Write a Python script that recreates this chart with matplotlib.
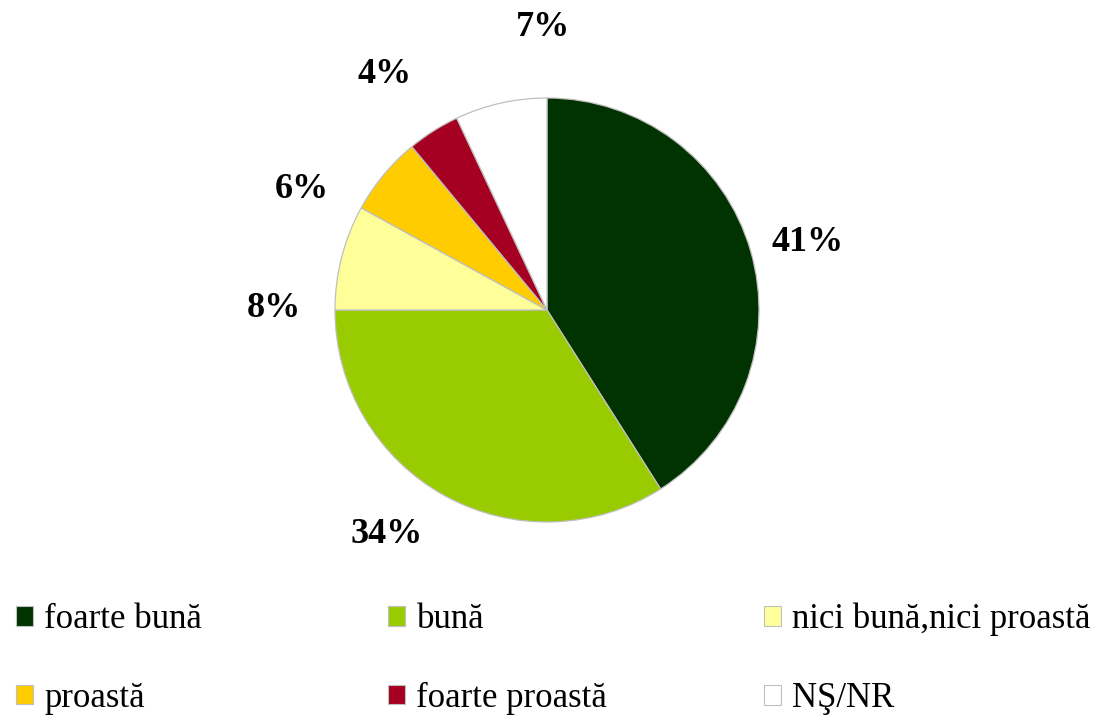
import numpy as np
import matplotlib
matplotlib.use("Agg")
import matplotlib.pyplot as plt
from matplotlib.patches import Patch

categories = ["foarte bună", "bună", "nici bună,nici proastă", "proastă", "foarte proastă", "NŞ/NR"]
values = [41, 34, 8, 6, 4, 7]
colors = ["#003300", "#99cc00", "#ffff99", "#ffcc00", "#a50021", "#ffffff"]
label_texts = ["41%", "34%", "8%", "6%", "4%", "7%"]
# label placement tweaks (angle shift in degrees, radial factor)
label_shift = [-1.6, -6.7, 14.0, 13.5, 2.3, -11.8]
label_rad = [1.27, 1.30, 1.29, 1.29, 1.35, 1.335]

fig = plt.figure(figsize=(10.93, 7.16), dpi=100)
cx, cy, R = 547, 310, 212
W, H = 1093, 716
ax = fig.add_axes([(cx - R) / W, (H - cy - R) / H, 2 * R / W, 2 * R / H])
wedges, _ = ax.pie(values, colors=colors, startangle=90, counterclock=False,
                   radius=1.0, wedgeprops=dict(edgecolor="#bfbfbf", linewidth=0.9))
ax.set_xlim(-1, 1)
ax.set_ylim(-1, 1)
ax.set_aspect("equal")
ax.axis("off")

for w, txt, sh, rf in zip(wedges, label_texts, label_shift, label_rad):
    mid = np.deg2rad((w.theta1 + w.theta2) / 2 + sh)
    ax.text(rf * np.cos(mid), rf * np.sin(mid), txt, ha="center", va="center",
            fontsize=26, fontweight="bold", family="Liberation Serif", clip_on=False)

handles = [Patch(facecolor=c, edgecolor="#bfbfbf", linewidth=0.8) for c in colors]
col_x = [16, 388, 764]
for j, x0 in enumerate(col_x):
    idx = [j, j + 3]
    leg = fig.legend([handles[i] for i in idx], [categories[i] for i in idx],
                     ncol=1, loc="upper left",
                     bbox_to_anchor=(x0 / W, 1 - 603 / H),
                     frameon=False, borderpad=0, borderaxespad=0,
                     handlelength=0.5, handleheight=0.5, handletextpad=0.32,
                     labelspacing=1.32,
                     prop=dict(family="Liberation Serif", size=25))

fig.savefig("out.png", dpi=100, facecolor="white")
